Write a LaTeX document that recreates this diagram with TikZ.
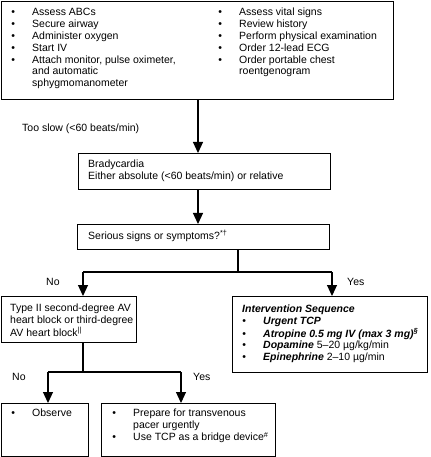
\documentclass[tikz,border=0pt]{standalone}
\usepackage{fontspec}
\setmainfont{Liberation Sans}
\usetikzlibrary{arrows.meta}
\newcommand\bul{\leavevmode\llap{\makebox[0pt]{•}\hspace{19bp}}}
\newcommand\txtlines[1]{\begin{tabular}[t]{@{}l@{}}#1\end{tabular}}
\begin{document}
\begin{tikzpicture}[x=1bp,y=-1bp,
  box/.style={draw, line width=1.1bp, rectangle, inner sep=0pt, anchor=north west},
  txt/.style={anchor=base west, inner sep=0pt, font=\fontsize{10.5bp}{11.9bp}\selectfont},
  arr/.style={line width=1.1bp, -{Triangle[width=10bp,length=11bp]}},
  ln/.style={line width=1.1bp}]
\useasboundingbox (0,0) rectangle (430,457);
% boxes
\node[box, minimum width=392bp, minimum height=98bp] (top) at (1,1) {};
\node[box, minimum width=252bp, minimum height=36bp] (brady) at (78,153) {};
\node[box, minimum width=252bp, minimum height=25bp] (serious) at (77,224) {};
\node[box, minimum width=135bp, minimum height=46bp] (typeii) at (1,296) {};
\node[box, minimum width=195bp, minimum height=76bp] (interv) at (232,296) {};
\node[box, minimum width=87bp, minimum height=53bp] (observe) at (1,403) {};
\node[box, minimum width=174bp, minimum height=53bp] (prepare) at (101,403) {};
% texts
\node[txt] (tl) at (32,15.5) {\txtlines{\bul Assess ABCs\\ \bul Secure airway\\ \bul Administer oxygen\\ \bul Start IV\\ \bul Attach monitor, pulse oximeter,\\ and automatic\\ sphygmomanometer}};
\node[txt] (tr) at (239,15.5) {\txtlines{\bul Assess vital signs\\ \bul Review history\\ \bul Perform physical examination\\ \bul Order 12-lead ECG\\ \bul Order portable chest\\ roentgenogram}};
\node[txt] (tooslow) at (22,131.5) {Too slow (<60 beats/min)};
\node[txt] (bradytxt) at (88,167.5) {\txtlines{Bradycardia\\ Either absolute (<60 beats/min) or relative}};
\node[txt] (serioustxt) at (88,239.5) {Serious signs or symptoms?\textsuperscript{*†}};
\node[txt] (no1) at (46,285.5) {No};
\node[txt] (yes1) at (347,285.5) {Yes};
\node[txt] (typeiitxt) at (10,311.5) {\txtlines{Type II second-degree AV\\ heart block or third-degree\\ AV heart block\textsuperscript{||}}};
\node[txt] (intervtxt) at (242,312.5) {\txtlines{\textbf{\textit{Intervention Sequence}}\\ \hspace{21bp}\bul\textbf{\textit{Urgent TCP}}\\ \hspace{21bp}\bul\textbf{\textit{Atropine 0.5 mg IV (max 3 mg)\textsuperscript{§}}}\\ \hspace{21bp}\bul\textbf{\textit{Dopamine}} 5–20 µg/kg/min\\ \hspace{21bp}\bul\textbf{\textit{Epinephrine}} 2–10 µg/min}};
\node[txt] (no2) at (12,380.5) {No};
\node[txt] (yes2) at (193,380.5) {Yes};
\node[txt] (observetxt) at (32,416.5) {\txtlines{\bul Observe}};
\node[txt] (preparetxt) at (133,416.5) {\txtlines{\bul Prepare for transvenous\\ pacer urgently\\ \bul Use TCP as a bridge device\textsuperscript{\#}}};
% connectors
\coordinate (s1) at (238,272);
\coordinate (jl1) at (83,272);
\coordinate (jr1) at (332,272);
\coordinate (s2) at (83,372);
\coordinate (jl2) at (48,372);
\coordinate (jr2) at (181,372);
\draw[arr] (top.south -| 198,0) -- (brady.north -| 198,0);
\draw[arr] (brady.south -| 198,0) -- (serious.north -| 198,0);
\draw[ln] (serious.south -| s1) -- (s1);
\draw[ln] (jl1) -- (jr1);
\draw[arr] (jl1) -- (jl1 |- typeii.north);
\draw[arr] (jr1) -- (jr1 |- interv.north);
\draw[ln] (typeii.south -| s2) -- (s2);
\draw[ln] (jl2) -- (jr2);
\draw[arr] (jl2) -- (jl2 |- observe.north);
\draw[arr] (jr2) -- (jr2 |- prepare.north);
\end{tikzpicture}
\end{document}
